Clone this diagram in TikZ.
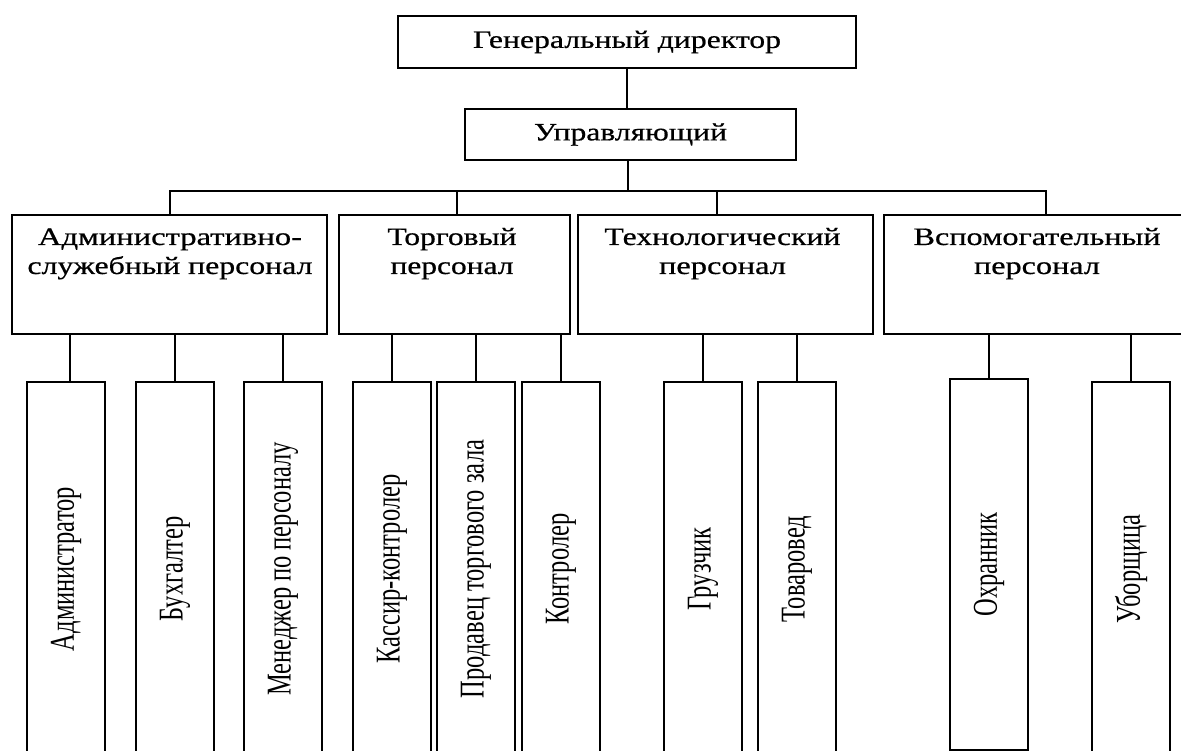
\documentclass[tikz,border=0pt]{standalone}
\usepackage{fontspec}
\setmainfont{Liberation Serif}
\newfontfamily\hfont[FakeBold=0.5]{Liberation Serif}
\usepackage{graphicx}
\newcommand{\hw}[2]{\resizebox{#1pt}{\height}{#2}}
\newcommand{\vt}[1]{\rotatebox{90}{\scalebox{1}[1.42]{#1}}}
\begin{document}
\begin{tikzpicture}[x=1pt,y=-1pt,line width=2pt,
  box/.style={draw, inner sep=0pt, line width=2pt, font=\hfont\fontsize{25}{29}\selectfont},
  l2box/.style={box, minimum height=119pt},
  l2txt/.style={inner sep=0pt, anchor=base, font=\hfont\fontsize{25}{29}\selectfont},
  l3box/.style={box, minimum width=78pt, minimum height=374pt, font=\rmfamily\fontsize{24.5}{29}\selectfont}]
\useasboundingbox[fill=white] (0,0) rectangle (1181,751);
\begin{scope}
\clip (0,0) rectangle (1181,751);
% top levels
\node[box, minimum width=458pt, minimum height=52pt] (gd) at (627,42) {\hw{308}{Генеральный директор}};
\node[box, minimum width=331pt, minimum height=51pt] (up) at (630.5,134.5) {\hw{193}{Управляющий}};
\draw (gd.south) -- (gd.south |- up.north);
\coordinate (bus) at (628,191);
\draw (bus |- up.south) -- (bus);
% level 2
\node[l2box, minimum width=315pt] (A) at (169.5,274.5) {};
\node[l2box, minimum width=231pt] (B) at (454.5,274.5) {};
\node[l2box, minimum width=295pt] (C) at (725.5,274.5) {};
\node[l2box, minimum width=306pt] (D) at (1037,274.5) {};
\node[l2txt] (At) at (170,245) {\begin{tabular}[t]{@{}c@{}}\hw{264}{Административно-}\\\hw{285}{служебный персонал}\end{tabular}};
\node[l2txt] (Bt) at (452,245) {\begin{tabular}[t]{@{}c@{}}\hw{129}{Торговый}\\\hw{123}{персонал}\end{tabular}};
\node[l2txt] (Ct) at (722.5,245) {\begin{tabular}[t]{@{}c@{}}\hw{236}{Технологический}\\\hw{127}{персонал}\end{tabular}};
\node[l2txt] (Dt) at (1037,245) {\begin{tabular}[t]{@{}c@{}}\hw{247}{Вспомогательный}\\\hw{126}{персонал}\end{tabular}};
\draw ([xshift=0.5pt]A.north) |- (bus) -| ([xshift=9pt]D.north);
\draw ([xshift=2.5pt]B.north) |- (bus);
\draw ([xshift=-8.5pt]C.north) |- (bus);
% level 3
\node[l3box] (adm) at (66,569) {\vt{Администратор}};
\node[l3box] (buh) at (175,569) {\vt{Бухгалтер}};
\node[l3box] (men) at (283,569) {\vt{Менеджер по персоналу}};
\node[l3box] (kas) at (392,569) {\vt{Кассир-контролер}};
\node[l3box] (pro) at (476,569) {\vt{Продавец торгового зала}};
\node[l3box] (kon) at (561,569) {\vt{Контролер}};
\node[l3box] (gru) at (703,569) {\vt{Грузчик}};
\node[l3box] (tov) at (797,569) {\vt{Товаровед}};
\node[l3box, minimum height=371pt] (ohr) at (989,564.5) {\vt{Охранник}};
\node[l3box] (ubo) at (1131,569) {\vt{Уборщица}};
\draw ([xshift=4pt]adm.north) -- ([xshift=4pt]adm.north |- A.south);
\foreach \n in {buh,men}{\draw (\n.north) -- (\n.north |- A.south);}
\foreach \n in {kas,pro,kon}{\draw (\n.north) -- (\n.north |- B.south);}
\foreach \n in {gru,tov}{\draw (\n.north) -- (\n.north |- C.south);}
\foreach \n in {ohr,ubo}{\draw (\n.north) -- (\n.north |- D.south);}
\end{scope}
\end{tikzpicture}
\end{document}
